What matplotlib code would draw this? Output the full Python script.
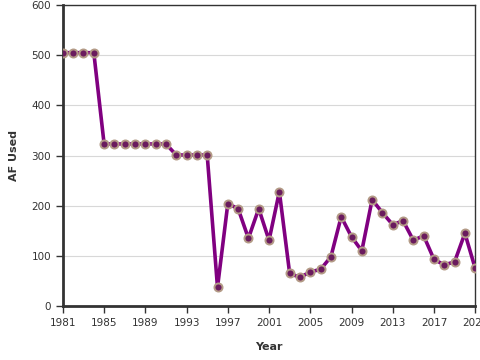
import numpy as np
import matplotlib
matplotlib.use("Agg")
import matplotlib.pyplot as plt

# Water use by year (acre-feet)
years = list(range(1981, 2022))
af_used = [505, 505, 505, 505,
           323, 323, 323, 323, 323, 323, 323,
           301, 301, 301, 301,
           37, 204, 194, 135, 194, 131, 228, 65, 57, 68,
           73, 98, 178, 138, 110, 212, 186, 162, 170, 131,
           140, 93, 82, 88, 145, 75]
x_ticks = list(range(1981, 2022, 4))
y_ticks = [0, 100, 200, 300, 400, 500, 600]

fig = plt.figure(figsize=(4.8, 3.6), dpi=100)
ax = fig.add_axes([0.131, 0.15, 0.859, 0.836])

ax.plot(years, af_used, color='#800080', lw=2.6, zorder=3,
        marker='o', markersize=5.8, markerfacecolor='#6a1b5e',
        markeredgecolor='#b39a86', markeredgewidth=1.4)

ax.set_xlim(1981, 2021)
ax.set_ylim(0, 600)
ax.set_xticks(x_ticks)
ax.set_yticks(y_ticks)
ax.grid(axis='y', color='#d8d8d8', lw=0.8)
ax.set_axisbelow(True)

for side in ['left', 'bottom']:
    ax.spines[side].set_linewidth(2)
    ax.spines[side].set_color('#333333')
for side in ['top', 'right']:
    ax.spines[side].set_linewidth(1)
    ax.spines[side].set_color('#333333')

ax.tick_params(axis='both', labelsize=7.5, colors='#333333', length=5, width=1)
ax.set_xlabel('Year', fontsize=8, fontweight='bold', color='#333333', labelpad=10)
ax.set_ylabel('AF Used', fontsize=8, fontweight='bold', color='#333333', labelpad=9)

fig.savefig('out.png', dpi=100)
